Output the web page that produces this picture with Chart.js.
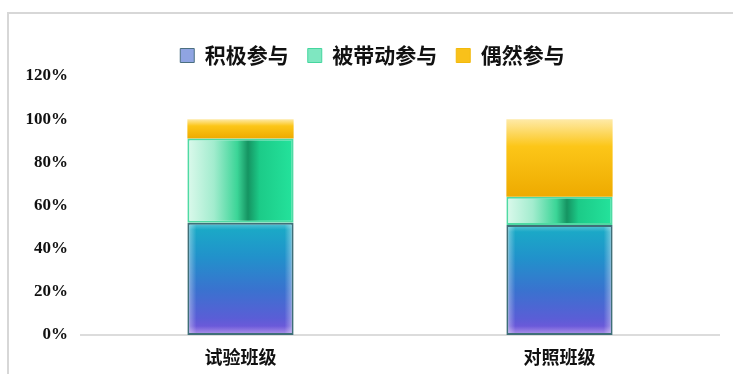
<!DOCTYPE html>
<html>
<head>
<meta charset="utf-8">
<script src="https://cdn.jsdelivr.net/npm/chart.js@4/dist/chart.umd.min.js"></script>
<style>
  html, body { margin: 0; padding: 0; background: #fff; overflow: hidden; }
  #wrap { position: relative; width: 733px; height: 374px; }
  #frame { position: absolute; left: 7px; top: 12px; width: 760px; height: 400px;
           border-left: 2px solid #d7d7d7; border-top: 2px solid #d7d7d7; pointer-events: none; }
  canvas { position: absolute; left: 0; top: 0; }
</style>
</head>
<body>
<div id="wrap">
  <canvas id="c" width="733" height="374"></canvas>
  <div id="frame"></div>
</div>
<script>
// Participation shares (percent) per class
const categories = ['试验班级', '对照班级'];
const seriesNames = ['积极参与', '被带动参与', '偶然参与'];
const activeShare = [52, 51];
const ledShare = [39, 13];
const occasionalShare = [9, 36];
const yTicks = [0, 20, 40, 60, 80, 100, 120];

const BAR_FRACTION = 0.333;
const CJK = '"Noto Sans CJK SC", "Noto Sans", sans-serif';

// Pixel bounds of one stacked segment, taken from the chart's own scales
function segmentBounds(ctx, lower, own) {
  const chart = ctx.chart;
  const xs = chart.scales.x, ys = chart.scales.y;
  if (ctx.type !== 'data' || !xs || !ys || !chart.chartArea) return null;
  const i = ctx.dataIndex;
  let base = 0;
  lower.forEach(a => { base += a[i]; });
  const cx = xs.getPixelForValue(i);
  const half = xs.width / categories.length * BAR_FRACTION / 2;
  return {
    top: ys.getPixelForValue(base + own[i]),
    bottom: ys.getPixelForValue(base),
    left: cx - half,
    right: cx + half
  };
}

function activeFill(ctx) {
  const b = segmentBounds(ctx, [], activeShare);
  if (!b) return '#3a7fcf';
  const g = ctx.chart.ctx.createLinearGradient(0, b.top, 0, b.bottom);
  g.addColorStop(0, '#19aec6');
  g.addColorStop(0.3, '#2192cb');
  g.addColorStop(0.6, '#3a72cf');
  g.addColorStop(0.85, '#5a5ed6');
  g.addColorStop(1, '#7d55dc');
  return g;
}

function ledFill(ctx) {
  const b = segmentBounds(ctx, [activeShare], ledShare);
  if (!b) return '#2ad796';
  const g = ctx.chart.ctx.createLinearGradient(b.left, 0, b.right, 0);
  g.addColorStop(0, '#dcf9ec');
  g.addColorStop(0.25, '#a2ecce');
  g.addColorStop(0.47, '#3bd597');
  g.addColorStop(0.57, '#159462');
  g.addColorStop(0.68, '#1ccb88');
  g.addColorStop(1, '#24e39c');
  return g;
}

function occasionalFill(ctx) {
  const b = segmentBounds(ctx, [activeShare, ledShare], occasionalShare);
  if (!b) return '#f8c010';
  const g = ctx.chart.ctx.createLinearGradient(0, b.top, 0, b.bottom);
  g.addColorStop(0, '#feeaa8');
  g.addColorStop(0.35, '#fcc618');
  g.addColorStop(1, '#eeaa00');
  return g;
}

const legendFill = ['#8fa4e2', '#7fe7c1', '#f9c11a'];
const legendStroke = ['#4b6f80', '#45d69e', '#f2b90c'];

// Soft light glow along the inside edges of the bottom segments
const innerGlow = {
  id: 'innerGlow',
  afterDatasetDraw(chart, args) {
    if (args.index !== 0) return;
    const c = chart.ctx;
    args.meta.data.forEach(el => {
      const { x, y, base, width } = el.getProps(['x', 'y', 'base', 'width'], true);
      const l = x - width / 2, r = x + width / 2, t = Math.min(y, base), b = Math.max(y, base);
      const w = 7;
      c.save();
      c.beginPath();
      c.rect(l + 2, t + 2, width - 4, b - t - 4);
      c.clip();
      let g = c.createLinearGradient(l, 0, l + w + 2, 0);
      g.addColorStop(0, 'rgba(255,255,255,0.45)');
      g.addColorStop(1, 'rgba(255,255,255,0)');
      c.fillStyle = g; c.fillRect(l, t, w + 2, b - t);
      g = c.createLinearGradient(r, 0, r - w - 2, 0);
      g.addColorStop(0, 'rgba(255,255,255,0.45)');
      g.addColorStop(1, 'rgba(255,255,255,0)');
      c.fillStyle = g; c.fillRect(r - w - 2, t, w + 2, b - t);
      g = c.createLinearGradient(0, b, 0, b - w - 2);
      g.addColorStop(0, 'rgba(255,255,255,0.4)');
      g.addColorStop(1, 'rgba(255,255,255,0)');
      c.fillStyle = g; c.fillRect(l, b - w - 2, width, w + 2);
      g = c.createLinearGradient(0, t, 0, t + w);
      g.addColorStop(0, 'rgba(255,255,255,0.3)');
      g.addColorStop(1, 'rgba(255,255,255,0)');
      c.fillStyle = g; c.fillRect(l, t, width, w);
      c.restore();
    });
  }
};

// Centre the legend row over the part of the canvas right of the frame
const legendOffset = {
  id: 'legendOffset',
  afterLayout(chart) {
    if (chart.legend) chart.legend.left += 26;
  }
};

new Chart(document.getElementById('c'), {
  type: 'bar',
  data: {
    labels: categories,
    datasets: [
      { label: seriesNames[0], data: activeShare, backgroundColor: activeFill,
        borderColor: '#3f6f78', borderWidth: 2, borderSkipped: false },
      { label: seriesNames[1], data: ledShare, backgroundColor: ledFill,
        borderColor: '#4fdaa3', borderWidth: 2, borderSkipped: false },
      { label: seriesNames[2], data: occasionalShare, backgroundColor: occasionalFill,
        borderWidth: 0 }
    ]
  },
  plugins: [innerGlow, legendOffset],
  options: {
    responsive: false,
    devicePixelRatio: 1,
    animation: false,
    categoryPercentage: 1,
    barPercentage: BAR_FRACTION,
    layout: { padding: { top: 26, left: 0, right: 14, bottom: 0 } },
    plugins: {
      tooltip: { enabled: false },
      legend: {
        position: 'top',
        align: 'center',
        labels: {
          boxWidth: 14,
          boxHeight: 14,
          padding: 19,
          color: '#111',
          font: { family: CJK, size: 21, weight: 'bold' },
          generateLabels: () => seriesNames.map((name, i) => ({
            text: name,
            fillStyle: legendFill[i],
            strokeStyle: legendStroke[i],
            lineWidth: 1,
            hidden: false,
            datasetIndex: i,
            fontColor: '#111'
          }))
        }
      }
    },
    scales: {
      x: {
        stacked: true,
        grid: { display: false },
        border: { display: true, color: '#dcdcdc', width: 2 },
        ticks: { color: '#111', padding: 3, font: { family: CJK, size: 18, weight: 'bold' } },
        afterFit: s => { s.height = 39; }
      },
      y: {
        stacked: true,
        min: 0,
        max: 120,
        grid: { display: false },
        border: { display: false },
        afterBuildTicks: s => { s.ticks = yTicks.map(v => ({ value: v })); },
        ticks: {
          color: '#111',
          padding: 5,
          font: { family: '"Liberation Serif", "Times New Roman", serif', size: 17, weight: 'bold' },
          callback: v => v + '%'
        },
        afterFit: s => { s.width = 81; }
      }
    }
  }
});
</script>
</body>
</html>
